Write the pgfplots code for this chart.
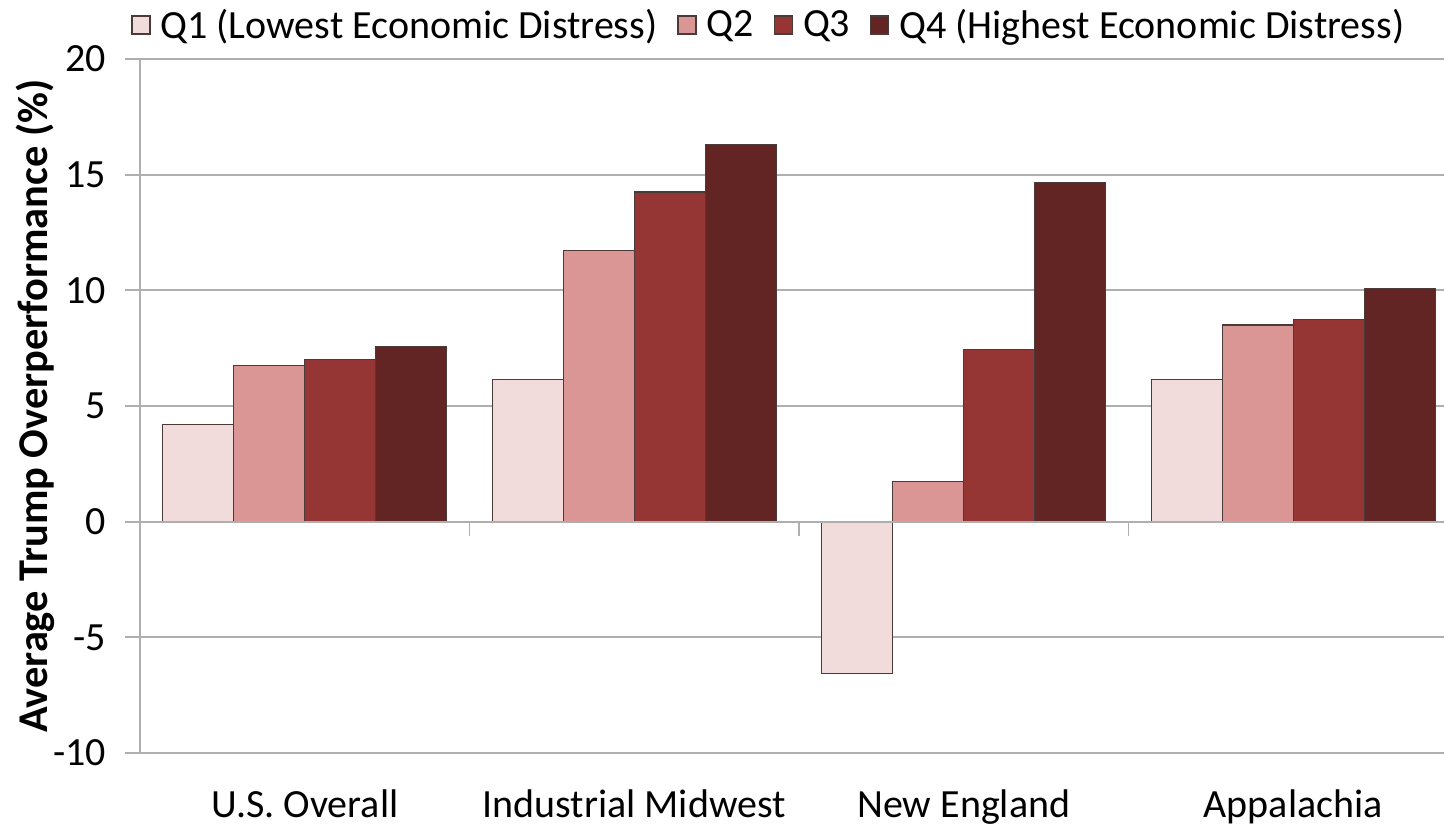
\documentclass[border=0pt]{standalone}
\usepackage{fontspec}
\setmainfont{Carlito}
\usepackage{pgfplots}
\pgfplotsset{compat=1.18}
\definecolor{qa}{HTML}{F2DCDB}
\definecolor{qb}{HTML}{DA9694}
\definecolor{qc}{HTML}{963634}
\definecolor{qd}{HTML}{632523}
\definecolor{edge}{HTML}{4A3A3A}
\definecolor{gridgray}{HTML}{AFAFAF}
\begin{document}
\begin{tikzpicture}
\begin{axis}[
  scale only axis, width=652pt, height=347pt,
  xmin=-0.5, xmax=3.4575, ymin=-10, ymax=20,
  ytick={-10,-5,...,20},
  ymajorgrids, grid style={color=gridgray, line width=0.9pt},
  axis lines*=left,
  x axis line style={draw=none},
  y axis line style={draw=gridgray, line width=0.9pt},
  xtick={0,1,2,3},
  xticklabels={U.S. Overall, Industrial Midwest, New England, Appalachia},
  x tick style={draw=none},
  y tick style={draw=gridgray, line width=0.9pt},
  tick align=outside, major tick length=7.5pt,
  /pgf/number format/assume math mode=true,
  ticklabel style={font=\fontsize{20}{24}\selectfont},
  yticklabel style={xshift=-6pt},
  xticklabel style={anchor=base, yshift=-24.5pt},
  ylabel={\bfseries Average Trump Overperformance (\%)},
  ylabel style={font=\fontsize{21.2}{25}\selectfont, at={(axis description cs:-0.0805,0.5)}, anchor=center},
  ybar=0pt, bar width=35.5pt,
  legend style={at={(0.483,1)}, anchor=center, yshift=17pt, legend columns=-1, draw=none, fill=none,
    font=\fontsize{20}{24}\selectfont,
    /tikz/every odd column/.append style={column sep=3pt},
    /tikz/every even column/.append style={column sep=8pt}},
  legend image code/.code={\draw[#1, line width=0.6pt] (0pt,-4.5pt) rectangle (9pt,4.5pt);},
]
\addplot[fill=qa, draw=edge, line width=0.6pt] coordinates {(0,4.2) (1,6.15) (2,-6.55) (3,6.15)};
\addplot[fill=qb, draw=edge, line width=0.6pt] coordinates {(0,6.75) (1,11.72) (2,1.75) (3,8.5)};
\addplot[fill=qc, draw=edge, line width=0.6pt] coordinates {(0,7.0) (1,14.25) (2,7.44) (3,8.73)};
\addplot[fill=qd, draw=edge, line width=0.6pt] coordinates {(0,7.57) (1,16.3) (2,14.66) (3,10.07)};
\legend{Q1 (Lowest Economic Distress), Q2, Q3, Q4 (Highest Economic Distress)}
\draw[gridgray, line width=0.9pt] (axis cs:-0.5,0) -- (axis cs:3.4575,0);
\draw[gridgray, line width=0.9pt] (axis cs:0.5,0) -- ([yshift=-7pt]axis cs:0.5,0);
\draw[gridgray, line width=0.9pt] (axis cs:1.5,0) -- ([yshift=-7pt]axis cs:1.5,0);
\draw[gridgray, line width=0.9pt] (axis cs:2.5,0) -- ([yshift=-7pt]axis cs:2.5,0);
\end{axis}
\pgfresetboundingbox
\path ([xshift=-70pt,yshift=-38pt]current axis.south west) rectangle ([xshift=0pt,yshift=29.5pt]current axis.north east);
\end{tikzpicture}
\end{document}
